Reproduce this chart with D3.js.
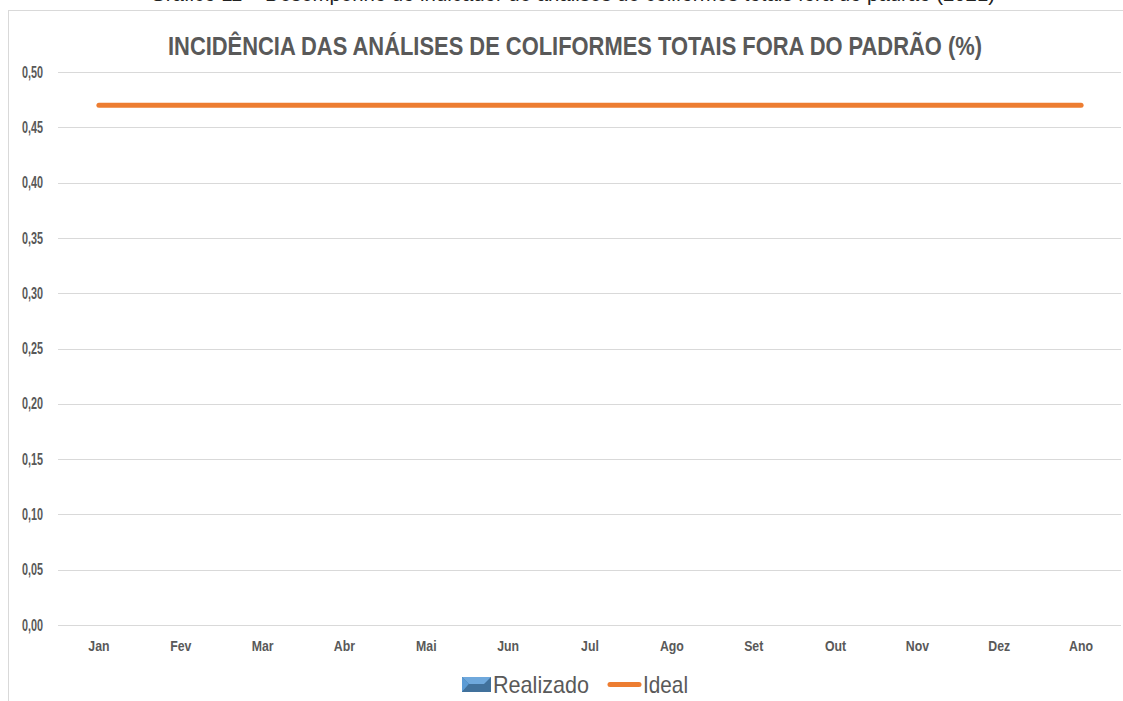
<!DOCTYPE html>
<html>
<head>
<meta charset="utf-8">
<script src="https://cdn.jsdelivr.net/npm/d3@7"></script>
<style>
  html, body { margin: 0; padding: 0; background: #fff; overflow: hidden; }
  svg { display: block; }
</style>
</head>
<body>
<svg id="chart"></svg>
<script>
const months = ['Jan', 'Fev', 'Mar', 'Abr', 'Mai', 'Jun', 'Jul', 'Ago', 'Set', 'Out', 'Nov', 'Dez', 'Ano'];
const realizado = [0, 0, 0, 0, 0, 0, 0, 0, 0, 0, 0, 0, 0];
const ideal = [0.47, 0.47, 0.47, 0.47, 0.47, 0.47, 0.47, 0.47, 0.47, 0.47, 0.47, 0.47, 0.47];
const yTicks = [0, 0.05, 0.10, 0.15, 0.20, 0.25, 0.30, 0.35, 0.40, 0.45, 0.50];

const W = 1123, H = 701;
const svg = d3.select('#chart').attr('width', W).attr('height', H);
const grey = '#595959';
const narrow = 'Liberation Sans Narrow, Arial Narrow, Liberation Sans, sans-serif';

// caption, cut off at the top of the page as in the source
svg.append('text')
  .attr('x', 150).attr('y', 1)
  .attr('textLength', 845).attr('lengthAdjust', 'spacingAndGlyphs')
  .attr('font-family', 'Liberation Sans, Arial, sans-serif')
  .attr('font-size', 20).attr('fill', '#222')
  .text('Gráfico 11 – Desempenho do indicador de análises de coliformes totais fora do padrão (2021)');

// chart frame
svg.append('rect')
  .attr('x', 8.5).attr('y', 10.5).attr('width', W).attr('height', H)
  .attr('fill', 'none').attr('stroke', '#d9d9d9');

svg.append('text')
  .attr('x', 575).attr('y', 55)
  .attr('text-anchor', 'middle')
  .attr('textLength', 814).attr('lengthAdjust', 'spacingAndGlyphs')
  .attr('font-family', narrow)
  .attr('font-weight', 'bold').attr('font-size', 26).attr('fill', grey)
  .text('INCIDÊNCIA DAS ANÁLISES DE COLIFORMES TOTAIS FORA DO PADRÃO (%)');

const x = d3.scaleBand().domain(months).range([58, 1122]).padding(0);
const y = d3.scaleLinear().domain([0, 0.5]).range([625, 72]);

// gridlines
svg.append('g')
  .selectAll('line')
  .data(yTicks)
  .join('line')
  .attr('x1', 58).attr('x2', 1121)
  .attr('y1', (d) => Math.round(y(d)) + 0.5)
  .attr('y2', (d) => Math.round(y(d)) + 0.5)
  .attr('stroke', '#d9d9d9').attr('stroke-width', 1);

const fmt = (d) => d3.format('.2f')(d).replace('.', ',');

const yAxis = svg.append('g')
  .attr('transform', 'translate(43,0)')
  .call(d3.axisLeft(y).tickValues(yTicks).tickFormat(fmt).tickSize(0).tickPadding(0));
yAxis.select('.domain').remove();
yAxis.selectAll('text')
  .attr('font-family', narrow)
  .attr('font-weight', 'bold').attr('font-size', 16).attr('fill', grey)
  .attr('textLength', 21).attr('lengthAdjust', 'spacingAndGlyphs');

const xAxis = svg.append('g')
  .attr('transform', 'translate(0,634)')
  .call(d3.axisBottom(x).tickSize(0).tickPadding(6));
xAxis.select('.domain').remove();
xAxis.selectAll('text')
  .attr('font-family', narrow)
  .attr('font-weight', 'bold').attr('font-size', 15).attr('fill', grey)
  .attr('textLength', function () { return this.getComputedTextLength() * 0.82; })
  .attr('lengthAdjust', 'spacingAndGlyphs');

// Realizado bars (all zero)
svg.append('g')
  .selectAll('rect')
  .data(realizado)
  .join('rect')
  .attr('x', (d, i) => x(months[i]) + x.bandwidth() * 0.2)
  .attr('width', x.bandwidth() * 0.6)
  .attr('y', (d) => y(d))
  .attr('height', (d) => y(0) - y(d))
  .attr('fill', '#5B9BD5');

// Ideal line
const line = d3.line()
  .x((d, i) => x(months[i]) + x.bandwidth() / 2)
  .y((d) => y(d));
svg.append('path')
  .datum(ideal)
  .attr('d', line)
  .attr('fill', 'none')
  .attr('stroke', '#ED7D31')
  .attr('stroke-width', 5)
  .attr('stroke-linecap', 'round');

// legend
const lg = svg.append('g').attr('transform', 'translate(462,677)');
lg.append('rect').attr('width', 29).attr('height', 15).attr('fill', '#41719C');
lg.append('polygon').attr('points', '0,0 29,0 22,7 7,7').attr('fill', '#6FA8DC');
lg.append('polygon').attr('points', '0,0 7,7 0,15').attr('fill', '#5B9BD5');
lg.append('polygon').attr('points', '7,7 22,7 29,15 0,15').attr('fill', '#41719C');
lg.append('text')
  .attr('x', 31).attr('y', 16)
  .attr('textLength', 96).attr('lengthAdjust', 'spacingAndGlyphs')
  .attr('font-family', 'Liberation Sans, Arial, sans-serif')
  .attr('font-size', 24).attr('fill', grey)
  .text('Realizado');
lg.append('line')
  .attr('x1', 148).attr('x2', 177).attr('y1', 7.5).attr('y2', 7.5)
  .attr('stroke', '#ED7D31').attr('stroke-width', 5).attr('stroke-linecap', 'round');
lg.append('text')
  .attr('x', 181).attr('y', 16)
  .attr('textLength', 45).attr('lengthAdjust', 'spacingAndGlyphs')
  .attr('font-family', 'Liberation Sans, Arial, sans-serif')
  .attr('font-size', 24).attr('fill', grey)
  .text('Ideal');
</script>
</body>
</html>
